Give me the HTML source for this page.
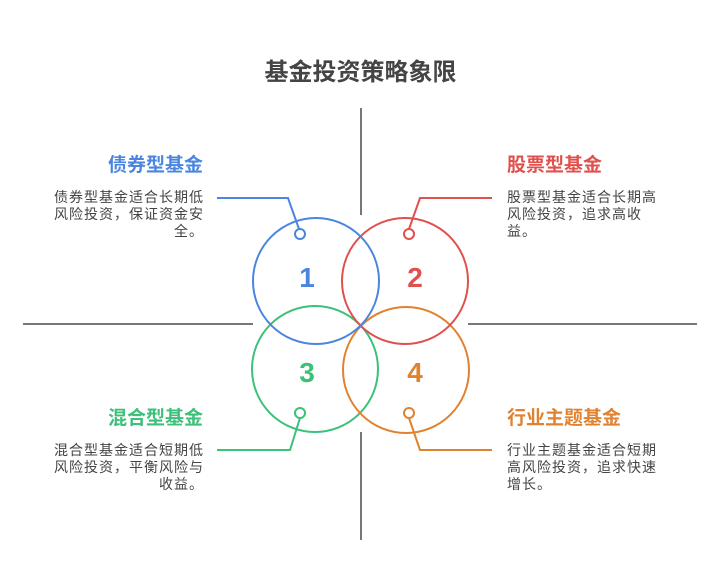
<!DOCTYPE html>
<html><head><meta charset="utf-8"><style>
body{margin:0;width:721px;height:588px;background:#fff;position:relative;font-family:"Liberation Sans","Noto Sans CJK SC",sans-serif;overflow:hidden}
.t{position:absolute;font-size:14px;letter-spacing:1px;line-height:17px;color:#444;width:152px}
.h{position:absolute;font-size:19px;font-weight:bold;width:200px}
.r{text-align:right}
</style></head><body>
<svg width="721" height="588" style="position:absolute;left:0;top:0">
<g stroke="#777" stroke-width="2">
<line x1="361" y1="108" x2="361" y2="215"/><line x1="361" y1="432" x2="361" y2="540"/>
<line x1="23" y1="324" x2="253" y2="324"/><line x1="468" y1="324" x2="697" y2="324"/>
</g>
<g fill="none" stroke-width="2">
<circle cx="315" cy="369" r="63" stroke="#3cc07a"/>
<circle cx="406" cy="370" r="63" stroke="#e0822f"/>
<circle cx="405" cy="281" r="63" stroke="#e0504d"/>
<circle cx="316" cy="281" r="63" stroke="#4a86e0"/>
<polyline points="217,198 288,198 299,229" stroke="#4a86e0"/>
<polyline points="409,229 420,198 492,198" stroke="#e0504d"/>
<polyline points="300,418 290,450 217,450" stroke="#3cc07a"/>
<polyline points="409,418 420,450 492,450" stroke="#e0822f"/>
</g>
<g fill="#fff" stroke-width="2">
<circle cx="300" cy="234" r="5" stroke="#4a86e0"/>
<circle cx="409" cy="234" r="5" stroke="#e0504d"/>
<circle cx="300" cy="413" r="5" stroke="#3cc07a"/>
<circle cx="409" cy="413" r="5" stroke="#e0822f"/>
</g>
<g font-family="Liberation Sans, sans-serif" font-weight="bold" font-size="28" text-anchor="middle">
<text x="307" y="287" fill="#4a86e0">1</text>
<text x="415" y="287" fill="#e0504d">2</text>
<text x="307" y="382" fill="#3cc07a">3</text>
<text x="415" y="382" fill="#e0822f">4</text>
</g>
</svg>
<div style="position:absolute;left:0;width:721px;top:52px;text-align:center;font-size:24px;font-weight:bold;color:#444">基金投资策略象限</div>
<div class="h r" style="left:3px;top:150px;color:#4a86e0">债券型基金</div>
<div class="t r" style="left:52px;top:189px">债券型基金适合长期低风险投资，保证资金安全。</div>
<div class="h" style="left:507px;top:150px;color:#e0504d">股票型基金</div>
<div class="t" style="left:507px;top:189px">股票型基金适合长期高风险投资，追求高收益。</div>
<div class="h r" style="left:3px;top:403px;color:#3cc07a">混合型基金</div>
<div class="t r" style="left:52px;top:442px">混合型基金适合短期低风险投资，平衡风险与收益。</div>
<div class="h" style="left:507px;top:403px;color:#e0822f">行业主题基金</div>
<div class="t" style="left:507px;top:442px">行业主题基金适合短期高风险投资，追求快速增长。</div>
</body></html>
